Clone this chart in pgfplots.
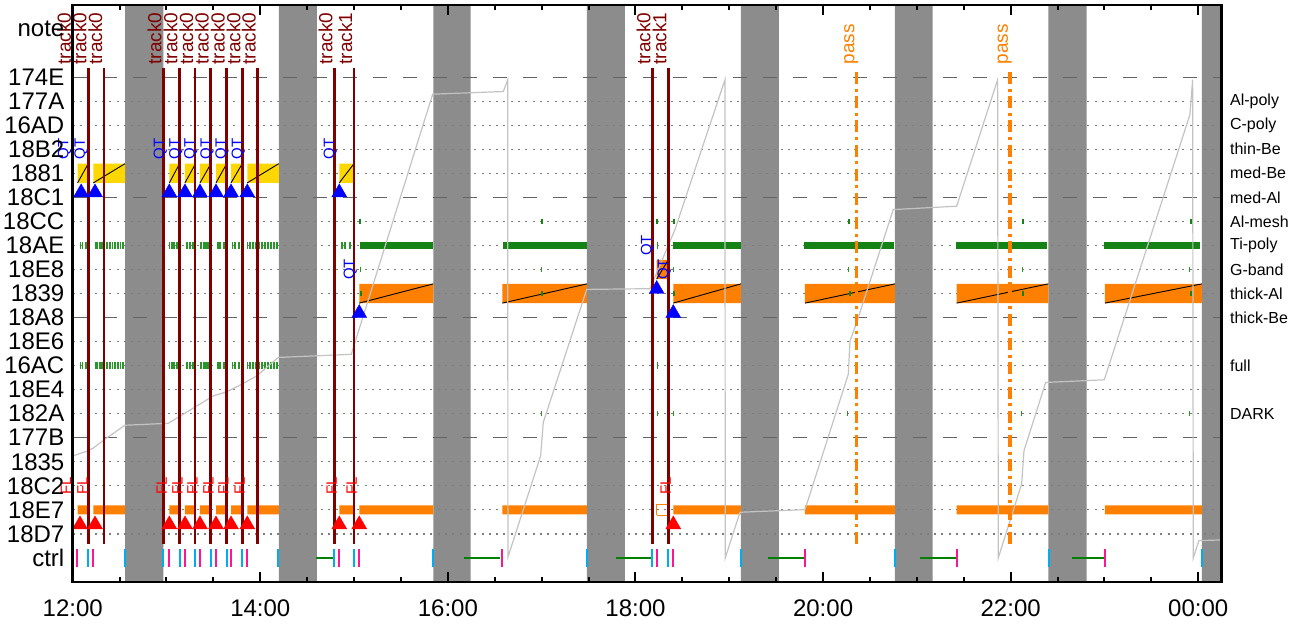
\documentclass[border=0pt]{standalone}
\usepackage{pgfplots}
\usepackage{pgfplotstable}
\pgfplotsset{compat=1.18}
\usepackage{fontspec}
\setmainfont{Liberation Sans}

\definecolor{bandgray}{RGB}{140,140,140}
\definecolor{trackred}{RGB}{128,0,0}
\definecolor{barorange}{RGB}{255,128,0}
\definecolor{boxgold}{RGB}{255,215,0}
\definecolor{tickgreen}{RGB}{40,150,40}
\definecolor{bargreen}{RGB}{20,130,20}
\definecolor{ctrlgreen}{RGB}{0,128,0}
\definecolor{ctrlpink}{RGB}{255,20,147}
\definecolor{dashgray}{RGB}{100,100,100}
\definecolor{dotgray}{RGB}{125,125,125}
\definecolor{trendgray}{RGB}{195,195,195}

% x = hours after 12:00
\pgfplotstableread{
x lvl
0.083 13
0.104 13
0.136 13
0.152 13
0.243 13
0.259 13
0.291 13
0.312 13
0.339 13
0.366 13
0.398 13
0.424 13
0.451 13
0.483 13
0.510 13
0.536 13
1.034 13
1.059 13
1.080 13
1.112 13
1.133 13
1.219 13
1.251 13
1.283 13
1.368 13
1.400 13
1.421 13
1.443 13
1.464 13
1.549 13
1.570 13
1.613 13
1.704 13
1.731 13
1.773 13
1.864 13
1.890 13
1.922 13
1.954 13
1.986 13
2.018 13
2.050 13
2.082 13
2.114 13
2.146 13
2.178 13
}\greenticks

\pgfplotstableread{
x lvl
0.049 0
0.220 0
1.030 0
1.197 0
1.357 0
1.528 0
1.688 0
1.861 0
2.842 0
3.055 0
4.580 0
6.226 0
6.403 0
7.807 0
9.424 0
11.005 0
}\pinkticks

\pgfplotstableread{
x lvl
0.166 0
0.558 0
0.966 0
1.140 0
1.304 0
1.471 0
1.642 0
1.808 0
2.192 0
2.786 0
2.999 0
3.844 0
5.480 0
6.179 0
6.343 0
7.125 0
8.767 0
10.408 0
12.036 0
}\cyanticks

\newcommand{\nightband}[2]{\addplot[fill=bandgray,draw=none] coordinates {(#1,-1) (#2,-1) (#2,23) (#1,23) (#1,-1)};}
\newcommand{\slab}[5]{%
  \addplot[fill=#5,draw=none] coordinates {(#1,#3) (#2,#3) (#2,#4) (#1,#4) (#1,#3)};
  \addplot[black,line width=0.45pt] coordinates {(#1,#3) (#2,#4)};}
\newcommand{\eventbar}[2]{\addplot[fill=barorange,draw=none] coordinates {(#1,1.81) (#2,1.81) (#2,2.19) (#1,2.19) (#1,1.81)};}
\newcommand{\gbar}[2]{\addplot[bargreen,line width=3.3pt] coordinates {(#1,13) (#2,13)};}
\newcommand{\cbar}[2]{\addplot[ctrlgreen,line width=1.3pt] coordinates {(#1,0) (#2,0)};}

\begin{document}
\begin{tikzpicture}[
  tracklab/.style={rotate=90,anchor=south west,inner sep=0.7pt,text=trackred,font=\fontsize{9.5}{10}\selectfont},
  passlab/.style={rotate=90,anchor=south west,inner sep=0.7pt,text=barorange,font=\fontsize{9.5}{10}\selectfont},
  qtlab/.style={rotate=90,anchor=south,inner sep=1pt,text=blue,font=\fontsize{7.5}{8}\selectfont},
  fllab/.style={rotate=90,anchor=south,inner sep=1pt,text=red,font=\fontsize{7.5}{8}\selectfont},
  rlab/.style={anchor=west,xshift=4pt,inner sep=0pt,font=\fontsize{8}{9}\selectfont},
]
\begin{axis}[
  scale only axis,
  width=574.5pt, height=288.5pt,
  xmin=0, xmax=12.25, ymin=-1, ymax=23,
  clip mode=individual,
  axis on top,
  axis line style={line width=1.3pt},
  xtick={0,2,4,6,8,10,12},
  xticklabels={12:00,14:00,16:00,18:00,20:00,22:00,00:00},
  minor xtick={0.5,1,1.5,2.5,3,3.5,4.5,5,5.5,6.5,7,7.5,8.5,9,9.5,10.5,11,11.5},
  tick align=inside,
  major tick length=5pt, minor tick length=2.5pt,
  xtick style={black,line width=1pt},
  ytick={0,...,22},
  yticklabels={ctrl,18D7,18E7,18C2,1835,177B,182A,18E4,16AC,18E6,18A8,1839,18E8,18AE,18CC,18C1,1881,18B2,16AD,177A,174E,{},note},
  ytick style={draw=none},
  yticklabel style={font=\fontsize{12}{14}\selectfont,inner sep=0pt,xshift=-4pt},
  xticklabel style={font=\fontsize{12}{14}\selectfont,yshift=-5.5pt},
]
% dark bands
\nightband{0.5576}{0.9659}
\nightband{2.1972}{2.6023}
\nightband{3.8443}{4.2431}
\nightband{5.4829}{5.8881}
\nightband{7.1247}{7.5299}
\nightband{8.7665}{9.1684}
\nightband{10.4009}{10.8102}
\nightband{12.0394}{12.25}

% row lines
\pgfplotsinvokeforeach{1,2,3,4,6,7,8,9,11,12,13,14,16,17,18,19}{
  \addplot[dotgray,line width=0.6pt,dash pattern=on 1pt off 2.65pt] coordinates {(0,#1) (12.25,#1)};}
\pgfplotsinvokeforeach{5,10,15,20}{
  \addplot[dashgray,line width=0.6pt,dash pattern=on 7.2pt off 7.8pt] coordinates {(0,#1) (12.25,#1)};}

% 1881 boxes
\slab{0.052}{0.166}{15.6}{16.4}{boxgold}
\slab{0.220}{0.5576}{15.6}{16.4}{boxgold}
\slab{1.030}{1.140}{15.6}{16.4}{boxgold}
\slab{1.197}{1.310}{15.6}{16.4}{boxgold}
\slab{1.357}{1.474}{15.6}{16.4}{boxgold}
\slab{1.528}{1.642}{15.6}{16.4}{boxgold}
\slab{1.688}{1.808}{15.6}{16.4}{boxgold}
\slab{1.861}{2.1972}{15.6}{16.4}{boxgold}
\slab{2.842}{2.999}{15.6}{16.4}{boxgold}
% 1839 boxes
\slab{3.055}{3.8443}{10.6}{11.4}{barorange}
\slab{4.580}{5.4829}{10.6}{11.4}{barorange}
\slab{6.403}{7.1247}{10.6}{11.4}{barorange}
\slab{7.807}{8.7665}{10.6}{11.4}{barorange}
\slab{9.424}{10.4009}{10.6}{11.4}{barorange}
\slab{11.005}{12.0394}{10.6}{11.4}{barorange}
% 18E8 box
\slab{6.226}{6.350}{11.6}{12.4}{barorange}

% 18E7 bars
\eventbar{0.052}{0.166}
\eventbar{0.220}{0.5576}
\eventbar{1.030}{1.140}
\eventbar{1.197}{1.310}
\eventbar{1.357}{1.474}
\eventbar{1.528}{1.642}
\eventbar{1.688}{1.808}
\eventbar{1.861}{2.1972}
\eventbar{2.842}{2.999}
\eventbar{3.055}{3.8443}
\eventbar{4.580}{5.4829}
\eventbar{6.403}{7.1247}
\eventbar{7.807}{8.7665}
\eventbar{9.424}{10.4009}
\eventbar{11.005}{12.0394}
\addplot[barorange,line width=0.6pt] coordinates {(6.226,1.77) (6.350,1.77) (6.350,2.23) (6.226,2.23) (6.226,1.77)};

% Ti-poly activity
\gbar{3.063}{3.8443}
\gbar{4.584}{5.4829}
\gbar{6.403}{7.1247}
\gbar{7.800}{8.755}
\gbar{9.417}{10.39}
\gbar{10.99}{12.02}
\addplot[only marks,mark=|,mark size=1.8pt,tickgreen,mark options={line width=0.6pt}] table[x=x,y=lvl] {\greenticks};
\addplot[only marks,mark=|,mark size=1.8pt,tickgreen,mark options={line width=0.6pt}] table[x=x,y expr=8] {\greenticks};
\addplot[only marks,mark=|,mark size=1.8pt,tickgreen,mark options={line width=0.6pt}] coordinates {(2.871,13) (2.903,13) (2.956,13) (2.990,13) (6.237,13) (6.237,8)};
\addplot[only marks,mark=|,mark size=1.4pt,bargreen,mark options={line width=1pt}] coordinates {
  (3.063,14) (5.000,14) (6.232,14) (6.414,14) (8.279,14) (10.128,14) (11.919,14)
  (3.070,11) (5.006,11) (6.414,11) (8.284,11) (10.134,11) (11.922,11)};
\addplot[only marks,mark=|,mark size=1.4pt,tickgreen,mark options={line width=0.5pt}] coordinates {
  (3.063,12) (4.996,12) (6.403,12) (8.269,12) (10.124,12) (11.911,12)
  (4.993,6) (6.237,6) (6.400,6) (8.262,6) (10.117,6) (11.904,6)};

% ctrl row
\cbar{2.594}{2.778}
\cbar{4.175}{4.555}
\cbar{5.792}{6.173}
\cbar{7.416}{7.800}
\cbar{9.033}{9.424}
\cbar{10.657}{11.005}
\addplot[only marks,mark=|,mark size=4.5pt,ctrlpink,mark options={line width=1pt}] table[x=x,y=lvl] {\pinkticks};
\addplot[only marks,mark=|,mark size=4.5pt,cyan,mark options={line width=1pt}] table[x=x,y=lvl] {\cyanticks};

% running level
\addplot[trendgray,line width=0.6pt] coordinates {
  (0.006,4.25) (0.166,4.46) (0.220,4.57) (0.344,4.94) (0.558,5.52) (1.019,5.60)
  (1.091,5.77) (1.499,6.74) (1.642,6.91) (1.819,7.26) (1.962,7.57) (2.192,8.34)
  (2.970,8.47) (3.838,19.29) (4.591,19.40) (4.638,19.89) (4.640,0.03) (4.989,4.25)
  (5.017,5.64) (5.480,11.17) (6.155,11.20) (6.421,13.66) (6.954,19.89) (6.957,0.0)
  (7.114,1.90) (7.807,2.01) (8.269,7.64) (8.287,9.02) (8.358,9.79) (8.748,14.49)
  (9.424,14.63) (9.861,19.89) (9.868,0.0) (10.117,3.08) (10.142,4.46) (10.373,7.30)
  (10.998,7.41) (11.911,18.44) (11.940,19.89) (11.947,0.0) (12.007,0.72) (12.25,0.75)};

% tracks and passes
\pgfplotsinvokeforeach{0.003,0.166,0.334,0.966,1.136,1.304,1.471,1.642,1.808,1.972,2.789,2.999,6.179,6.350}{
  \addplot[trackred,line width=1.3pt] coordinates {(#1,0.585) (#1,20.37)};}
\pgfplotsinvokeforeach{8.358,9.993}{
  \addplot[barorange,line width=1.6pt,dash pattern=on 6pt off 2.3pt on 1.5pt off 2.3pt] coordinates {(#1,0.585) (#1,20.37)};}

% events
\addplot[only marks,mark=triangle*,mark size=4.3pt,blue,mark options={line width=0.2pt}] coordinates {
  (0.090,15.2) (0.238,15.2) (1.030,15.2) (1.197,15.2) (1.357,15.2) (1.528,15.2) (1.688,15.2) (1.861,15.2) (2.842,15.2)
  (3.055,10.18) (6.403,10.18) (6.226,11.18)};
\addplot[only marks,mark=triangle*,mark size=4.3pt,red,mark options={line width=0.2pt}] coordinates {
  (0.078,1.39) (0.238,1.39) (1.030,1.39) (1.197,1.39) (1.357,1.39) (1.528,1.39) (1.688,1.39) (1.861,1.39) (2.842,1.39)
  (3.055,1.39) (6.403,1.39)};

% labels
\pgfplotsinvokeforeach{0.003,0.166,0.334,0.966,1.136,1.304,1.471,1.642,1.808,1.972,2.789,6.179}{
  \node[tracklab] at (axis cs:#1,20.45) {track0};}
\pgfplotsinvokeforeach{2.999,6.350}{
  \node[tracklab] at (axis cs:#1,20.45) {track1};}
\pgfplotsinvokeforeach{8.396,10.031}{
  \node[passlab] at (axis cs:#1,20.45) {pass};}
\pgfplotsinvokeforeach{0.010,0.185,1.030,1.197,1.357,1.528,1.688,1.861,2.842}{
  \node[qtlab] at (axis cs:#1,17) {QT};}
\node[qtlab] at (axis cs:3.055,12) {QT};
\node[qtlab] at (axis cs:6.403,12) {QT};
\node[qtlab] at (axis cs:6.226,13) {QT};
\pgfplotsinvokeforeach{0.010,0.185,1.030,1.197,1.357,1.528,1.688,1.861,2.842,3.055,6.403}{
  \node[fllab] at (axis cs:#1,3) {FL};}

\node[rlab] at (axis cs:12.25,19) {Al-poly};
\node[rlab] at (axis cs:12.25,18) {C-poly};
\node[rlab] at (axis cs:12.25,17) {thin-Be};
\node[rlab] at (axis cs:12.25,16) {med-Be};
\node[rlab] at (axis cs:12.25,15) {med-Al};
\node[rlab] at (axis cs:12.25,14) {Al-mesh};
\node[rlab] at (axis cs:12.25,13) {Ti-poly};
\node[rlab] at (axis cs:12.25,12) {G-band};
\node[rlab] at (axis cs:12.25,11) {thick-Al};
\node[rlab] at (axis cs:12.25,10) {thick-Be};
\node[rlab] at (axis cs:12.25,8) {full};
\node[rlab] at (axis cs:12.25,6) {DARK};
\end{axis}
\path ([xshift=-36.35pt,yshift=-20pt]current axis.south west) rectangle ([xshift=41.65pt,yshift=2.5pt]current axis.north east);
\end{tikzpicture}
\end{document}
